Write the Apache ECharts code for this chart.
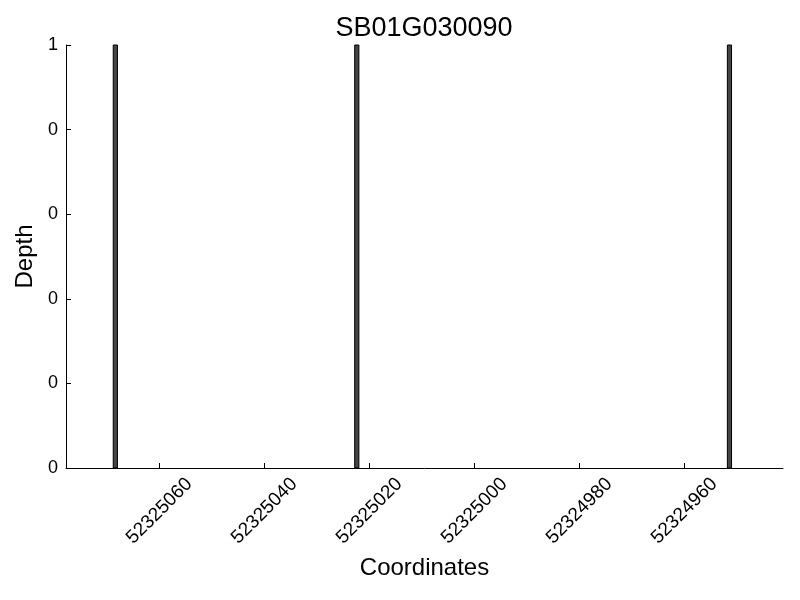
<!DOCTYPE html>
<html><head><meta charset="utf-8">
<script src="https://cdn.jsdelivr.net/npm/echarts@6/dist/echarts.min.js"></script>
<style>html,body{margin:0;padding:0;background:#fff}#c{width:800px;height:600px}</style>
</head><body><div id="c"></div>
<script>
const title = "SB01G030090";
const coordinates = [52325068, 52325022, 52324951];
const depths = [1, 1, 1];
const xTicks = [52325060, 52325040, 52325020, 52325000, 52324980, 52324960];
const yTicks = [0, 0.2, 0.4, 0.6, 0.8, 1];
const barWidthUnits = 0.8;
const font = "Liberation Sans";

const chart = echarts.init(document.getElementById('c'));
chart.setOption({
  animation: false,
  backgroundColor: '#fff',
  title: { text: title, left: 419, top: 10, textAlign: 'center',
    textStyle: { fontFamily: font, fontSize: 27, fontWeight: 'normal', color: '#000' } },
  grid: { left: 66, right: 17, top: 45, bottom: 132, containLabel: false, outerBoundsMode: 'none' },
  xAxis: {
    type: 'value', inverse: true, min: 52324941.2, max: 52325077.8, interval: 20,
    name: 'Coordinates', nameLocation: 'middle', nameGap: 88,
    nameTextStyle: { fontFamily: font, fontSize: 24, color: '#000' },
    axisLine: { show: true, lineStyle: { color: '#000', width: 1 } },
    axisTick: { show: true, inside: true, length: 5, lineStyle: { color: '#000' },
      customValues: xTicks },
    axisLabel: { rotate: 45, align: 'center', verticalAlign: 'middle', margin: 43,
      fontFamily: font, fontSize: 19, color: '#000',
      customValues: xTicks, formatter: v => String(v) },
    splitLine: { show: false }
  },
  yAxis: {
    type: 'value', min: 0, max: 1, interval: 0.2,
    name: 'Depth', nameLocation: 'middle', nameGap: 28,
    nameTextStyle: { fontFamily: font, fontSize: 24, color: '#000' },
    axisLine: { show: true, lineStyle: { color: '#000', width: 1 } },
    axisTick: { show: true, inside: true, length: 5, lineStyle: { color: '#000' },
      customValues: yTicks },
    axisLabel: { fontFamily: font, fontSize: 18, color: '#000', margin: 8,
      customValues: yTicks, formatter: v => String(Math.trunc(v + 1e-9)) },
    splitLine: { show: false }
  },
  series: [{
    type: 'custom',
    data: coordinates.map((c, i) => [c, depths[i]]),
    renderItem: (params, api) => {
      const x = api.value(0), y = api.value(1);
      const p1 = api.coord([x, y]);
      const p0 = api.coord([x + barWidthUnits, 0]);
      const left = Math.min(p0[0], p1[0]);
      return { type: 'rect',
        shape: { x: left, y: p1[1], width: Math.abs(p1[0] - p0[0]), height: p0[1] - p1[1] },
        style: { fill: '#444444', stroke: '#000', lineWidth: 1 } };
    }
  }]
});
</script></body></html>
